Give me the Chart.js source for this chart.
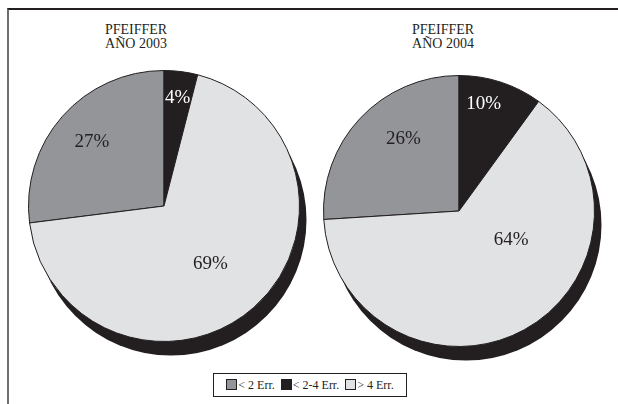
<!DOCTYPE html>
<html>
<head>
<meta charset="utf-8">
<script src="https://cdn.jsdelivr.net/npm/chart.js@4.4.0/dist/chart.umd.min.js"></script>
<style>
  html, body { margin: 0; padding: 0; background: #fff; }
  body { width: 618px; height: 404px; position: relative; overflow: hidden; font-family: "Liberation Serif", "DejaVu Serif", serif; color: #231f20; }
  #frame { position: absolute; left: 7px; top: 8px; right: -10px; bottom: -10px; border-left: 2px solid #6d6e71; border-top: 2px solid #231f20; }
  .title { position: absolute; top: 23px; width: 160px; text-align: center; font-size: 14px; line-height: 14px; font-family: "Liberation Serif", serif; }
  .box { position: absolute; }
  #legend { position: absolute; left: 213px; top: 373px; width: 192px; height: 22px; border: 1px solid #231f20; background: #fff;
            display: flex; align-items: center; justify-content: center; font: 12px "Liberation Serif", serif; }
  #legend span.sw { display: inline-block; width: 9px; height: 9px; border: 1px solid #231f20; margin-right: 1px; vertical-align: -1px; }
  #legend span.item { margin: 0 3px; white-space: nowrap; font-family: "Liberation Serif", serif; }
</style>
</head>
<body>
<div id="frame"></div>
<div class="title" id="title0" style="left:56px"></div>
<div class="title" id="title1" style="left:363px"></div>
<div class="box" style="left:8px;top:10px;width:310px;height:360px"><canvas id="pie0"></canvas></div>
<div class="box" style="left:318px;top:10px;width:300px;height:360px"><canvas id="pie1"></canvas></div>
<div id="legend"></div>
<script>
// Data
const categories = ['< 2 Err.', '< 2-4 Err.', '> 4 Err.'];
const years = ['2003', '2004'];
const values2003 = [27, 4, 69];
const values2004 = [26, 10, 64];
const colors = ['#939598', '#231f20', '#e1e2e4'];
const labelColors = ['#231f20', '#ffffff', '#231f20'];

// Shadow under each pie
const pieShadow = {
  id: 'pieShadow',
  beforeDatasetsDraw(chart, args, opts) {
    const arc = chart.getDatasetMeta(0).data[0];
    if (!arc) return;
    const ctx = chart.ctx;
    ctx.save();
    ctx.fillStyle = '#231f20';
    ctx.beginPath();
    ctx.arc(arc.x + opts.dx, arc.y + opts.dy, arc.outerRadius, 0, Math.PI * 2);
    ctx.fill();
    ctx.restore();
  }
};

// Percent labels inside slices
const pieLabels = {
  id: 'pieLabels',
  afterDatasetsDraw(chart, args, opts) {
    const ctx = chart.ctx;
    const values = chart.data.datasets[0].data;
    const total = values.reduce((a, b) => a + b, 0);
    ctx.save();
    ctx.font = '19px "Liberation Serif"';
    ctx.textAlign = 'center';
    ctx.textBaseline = 'middle';
    chart.getDatasetMeta(0).data.forEach((arc, i) => {
      const a = (arc.startAngle + arc.endAngle) / 2 + opts.shift[i] * Math.PI / 180;
      const r = arc.outerRadius * opts.dist[i];
      ctx.fillStyle = labelColors[i];
      ctx.fillText(Math.round(values[i] / total * 100) + '%', arc.x + Math.cos(a) * r, arc.y + Math.sin(a) * r);
    });
    ctx.restore();
  }
};

function makePie(id, values, padding, labelOpts) {
  const total = values.reduce((a, b) => a + b, 0);
  return new Chart(document.getElementById(id), {
    type: 'pie',
    data: {
      labels: categories,
      datasets: [{
        data: values,
        backgroundColor: colors,
        borderColor: '#231f20',
        borderWidth: 1,
        hoverOffset: 0,
      }],
    },
    options: {
      responsive: true,
      maintainAspectRatio: false,
      animation: false,
      rotation: -values[0] / total * 360,
      layout: { padding: padding },
      plugins: {
        legend: { display: false },
        tooltip: { enabled: false },
        pieShadow: { dx: 7, dy: 14 },
        pieLabels: labelOpts,
      },
    },
    plugins: [pieShadow, pieLabels],
  });
}

makePie('pie0', values2003, { left: 20, right: 18, top: 60, bottom: 28 },
  { dist: [0.71, 0.80, 0.55], shift: [0, 0, 3] });
makePie('pie1', values2004, { left: 5, right: 23, top: 65, bottom: 23 },
  { dist: [0.67, 0.81, 0.44], shift: [9, -5, -32] });

// Titles
years.forEach((y, i) => {
  document.getElementById('title' + i).innerHTML = 'PFEIFFER<br>AÑO ' + y;
});

// Legend
document.getElementById('legend').innerHTML = categories
  .map((c, i) => `<span class="item"><span class="sw" style="background:${colors[i]}"></span>${c.replace('< ', '&lt; ').replace('> ', '&gt; ')}</span>`)
  .join('');
</script>
</body>
</html>
